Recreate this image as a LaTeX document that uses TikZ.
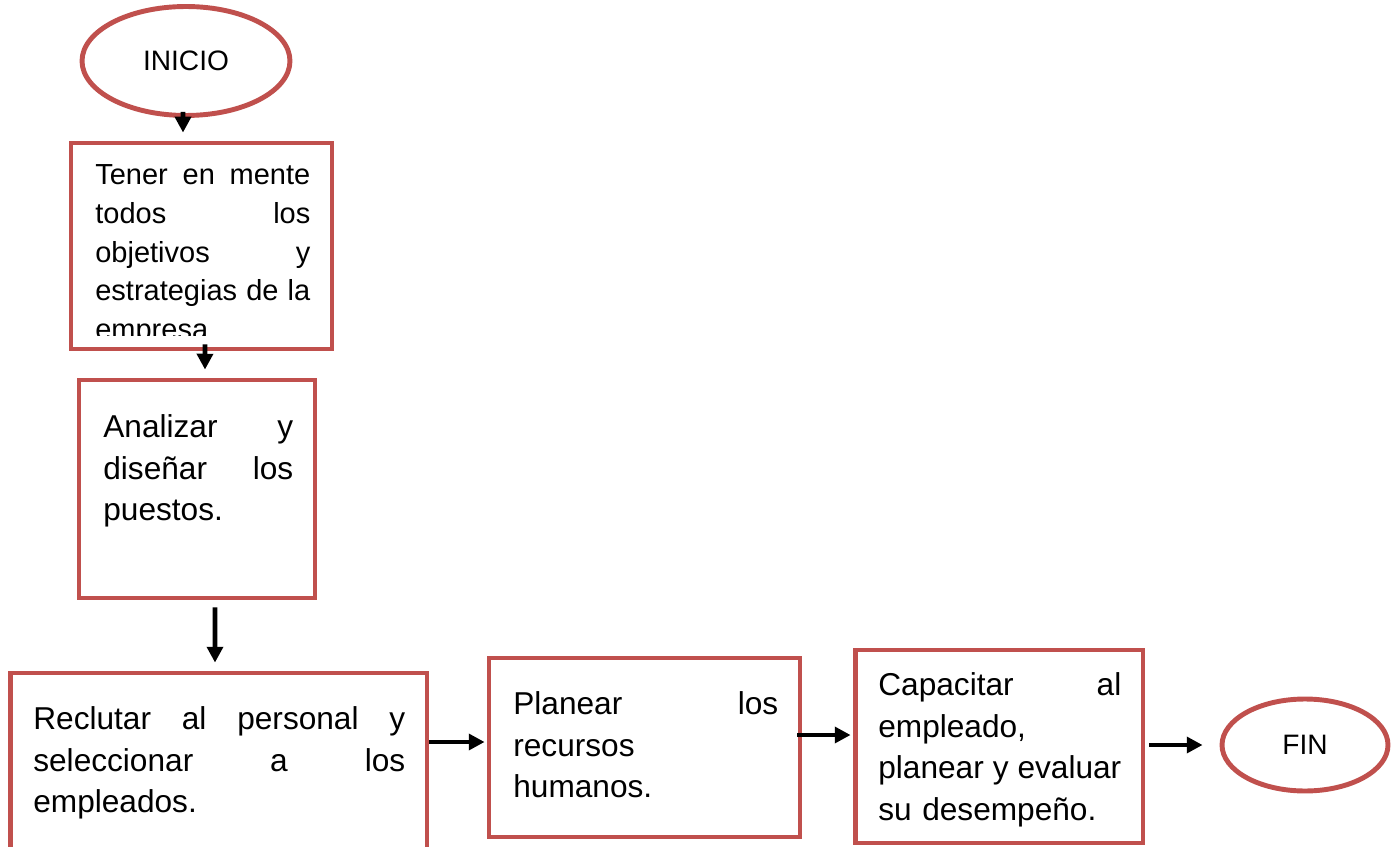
\documentclass[tikz,border=0pt]{standalone}
\usepackage{fontspec}
\setmainfont{Liberation Sans}
\usetikzlibrary{arrows.meta,shapes.geometric,positioning}
\definecolor{borde}{HTML}{C0504D}
\begin{document}
\begin{tikzpicture}[x=0.02cm,y=-0.02cm,
    caja/.style={draw=borde,line width=2.8pt,rectangle,inner sep=0pt},
    elipse/.style={draw=borde,line width=2.8pt,ellipse,inner sep=0pt,
      font=\fontsize{16}{19}\selectfont},
    texto/.style={inner sep=0pt,anchor=north west,align=left,
      font=\fontsize{18}{23.6}\selectfont},
    flecha/.style={-{Triangle[length=9pt,width=9pt]},line width=2.8pt}]
    \useasboundingbox (0,0) rectangle (1395,847);
    % terminales
    \node[elipse,minimum width=4.16cm,minimum height=2.18cm] (inicio) at (186,61) {INICIO};
    \node[elipse,minimum width=3.32cm,minimum height=1.84cm] (fin) at (1305,745) {FIN};
    % cajas
    \node[caja,minimum width=5.22cm,minimum height=4.12cm] (tener) at (201.5,246) {};
    \node[caja,minimum width=4.72cm,minimum height=4.36cm] (analizar) at (197,489) {};
    \node[caja,minimum width=8.34cm,minimum height=3.94cm] (reclutar) at (218.5,771.5) {};
    \node[caja,minimum width=6.22cm,minimum height=3.58cm] (planear) at (644.5,747.5) {};
    \node[caja,minimum width=5.76cm,minimum height=3.86cm] (capacitar) at (999,746.5) {};
    % textos
    \begin{scope}
      \clip (73,145) rectangle (330,336);
      \node[texto,text width=4.3cm,font=\fontsize{16.5}{22}\selectfont] (tenerTxt) at (95,164.5)
        {Tener\hfill en\hfill mente\\ todos\hfill los\\ objetivos\hfill y\\
         estrategias\hfill de\hfill la\\ empresa};
    \end{scope}
    \node[texto,text width=3.8cm] (analizarTxt) at (103,414.5)
      {Analizar\hfill y\\ diseñar\hfill los\\ puestos.};
    \node[texto,text width=7.44cm] (reclutarTxt) at (33,706.5)
      {Reclutar\hfill al\hfill personal\hfill y\\ seleccionar\hfill a\hfill los\\ empleados.};
    \node[texto,text width=5.3cm] (planearTxt) at (513,691.5)
      {Planear\hfill los\\ recursos\\ humanos.};
    \node[texto,text width=4.86cm] (capacitarTxt) at (878,672.5)
      {Capacitar\hfill al\\ empleado,\\ planear\hfill y\hfill evaluar\\ su desempeño.};
    % flechas
    \draw[flecha] ([xshift=-0.06cm,yshift=0.12cm]inicio.south) -- ([xshift=-0.37cm,yshift=0.16cm]tener.north);
    \draw[flecha] ([xshift=0.07cm,yshift=0.14cm]tener.south) -- ([xshift=0.16cm,yshift=0.16cm]analizar.north);
    \draw[flecha] ([xshift=0.36cm,yshift=-0.14cm]analizar.south) -- ([xshift=-0.07cm,yshift=0.16cm]reclutar.north);
    \coordinate (p4) at ([xshift=-0.04cm,yshift=0.11cm]planear.west);
    \draw[flecha] (reclutar.east |- p4) -- (p4);
    \coordinate (p5) at ([xshift=-0.04cm,yshift=0.23cm]capacitar.west);
    \draw[flecha] ([xshift=-0.1cm]planear.east |- p5) -- (p5);
    \draw[flecha] ([xshift=0.08cm]capacitar.east |- fin.west) -- ([xshift=-0.34cm]fin.west);
\end{tikzpicture}
\end{document}
